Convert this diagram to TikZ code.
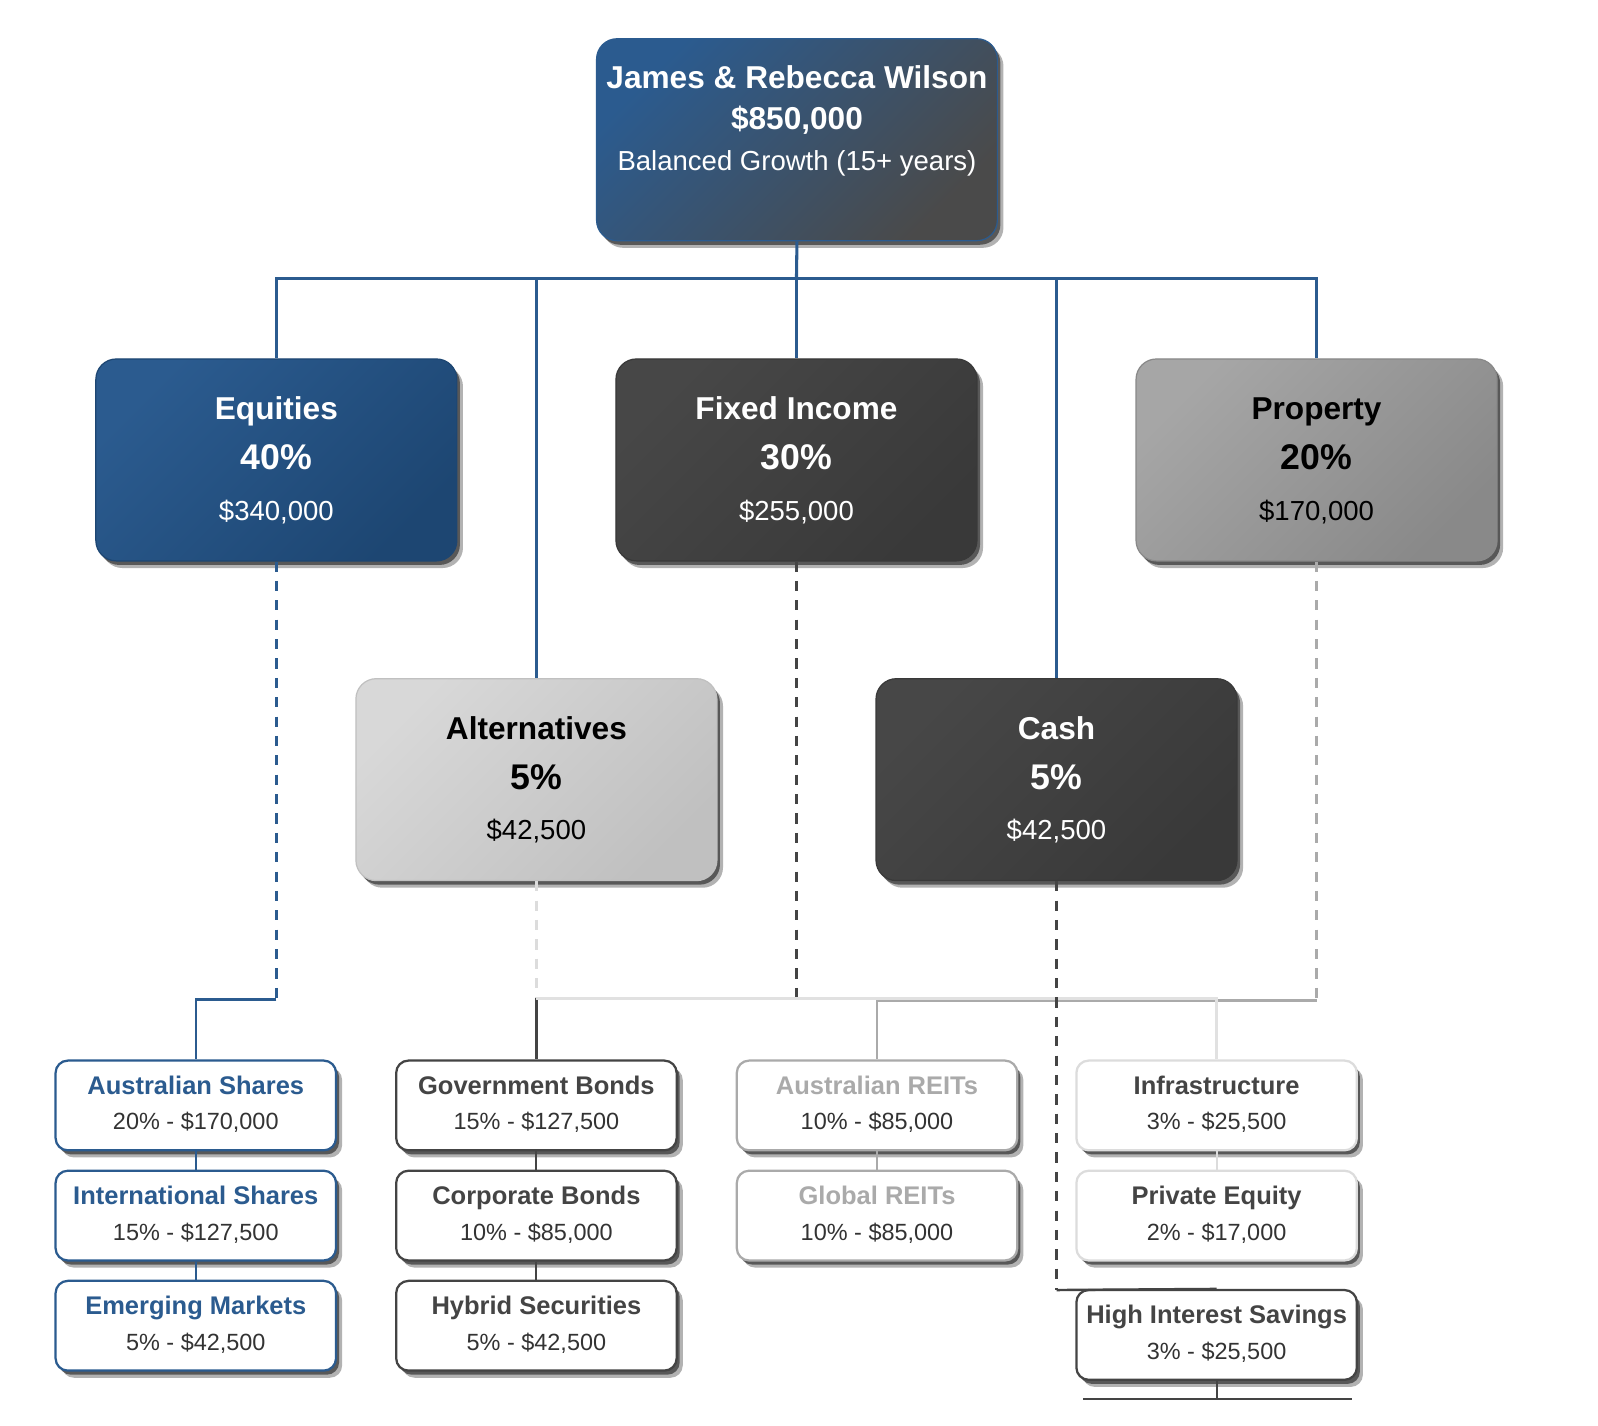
\documentclass[tikz,border=0pt]{standalone}
\usepackage{fontspec}
\setmainfont{Liberation Sans}
\usetikzlibrary{shadows}
\definecolor{navy}{HTML}{2B5B8F}
\definecolor{navydk}{HTML}{1D4672}
\definecolor{rootgray}{HTML}{4A4A4A}
\definecolor{charA}{HTML}{474747}
\definecolor{charB}{HTML}{393939}
\definecolor{charline}{HTML}{444444}
\definecolor{propA}{HTML}{A6A6A6}
\definecolor{propB}{HTML}{898989}
\definecolor{altA}{HTML}{D8D8D8}
\definecolor{altB}{HTML}{C0C0C0}
\definecolor{midgray}{HTML}{AAAAAA}
\definecolor{lightgray}{HTML}{DCDCDC}
\definecolor{valtext}{HTML}{333333}
\tikzset{
  boxshadow/.style={drop shadow={shadow xshift=1.5pt,shadow yshift=-2pt,opacity=0.5,fill=black},
                    drop shadow={shadow xshift=3pt,shadow yshift=-3.5pt,opacity=0.3,fill=black}},
  bigbox/.style n args={3}{rounded corners=10pt, inner sep=0pt, minimum width=177pt, minimum height=99pt,
                 draw=#1, line width=0.6pt, top color=#2, bottom color=#3, shading angle=45, boxshadow},
  leafbox/.style={rounded corners=6pt, inner sep=0pt, minimum width=137.5pt, minimum height=44pt,
                 fill=white, draw, line width=1.1pt, boxshadow},
  tx/.style={anchor=base, inner sep=0pt},
  fTitle/.style={font=\fontsize{15.5}{18}\selectfont\bfseries},
  fPct/.style={font=\fontsize{17.5}{20}\selectfont\bfseries},
  fAmt/.style={font=\fontsize{13.5}{16}\selectfont},
  fLeafT/.style={font=\fontsize{12.5}{15}\selectfont\bfseries},
  fLeafV/.style={font=\fontsize{11.5}{14}\selectfont, text=valtext},
  buscon/.style={draw=navy, line width=1.5pt},
  dashcon/.style={line width=1.25pt, dash pattern=on 5pt off 4.5pt},
  leafcon/.style={line width=1pt},
}
\begin{document}
\begin{tikzpicture}[x=0.5pt,y=-0.5pt]
\useasboundingbox (0,0) rectangle (1567,1398);
\fill[white] (0,0) rectangle (1567,1398);

% ---------- top level ----------
\node[bigbox={navy}{navy}{rootgray}, minimum width=196.5pt] (root) at (781.5,137) {};
\node[tx, fTitle, text=white] (rootT) at (781.5,87) {James \& Rebecca Wilson};
\node[tx, fTitle, text=white] (rootA) at (781.5,127) {\$850,000};
\node[tx, fAmt, text=white] (rootS) at (781.5,167) {Balanced Growth (15+ years)};

% ---------- level 1 ----------
\node[bigbox={navydk}{navy}{navydk}] (eq) at (271,451) {};
\node[bigbox={charB}{charA}{charB}] (fi) at (781,451) {};
\node[bigbox={propB}{propA}{propB}] (prop) at (1291,451) {};
\node[bigbox={altB}{altA}{altB}] (alt) at (526,764.5) {};
\node[bigbox={charB}{charA}{charB}] (cash) at (1036,764.5) {};

\node[tx, fTitle, text=white] (eqT) at (271,411) {Equities};
\node[tx, fPct, text=white] (eqP) at (271,460.5) {40\%};
\node[tx, fAmt, text=white] (eqA) at (271,510) {\$340,000};

\node[tx, fTitle, text=white] (fiT) at (781,411) {Fixed Income};
\node[tx, fPct, text=white] (fiP) at (781,460.5) {30\%};
\node[tx, fAmt, text=white] (fiA) at (781,510) {\$255,000};

\node[tx, fTitle, text=black] (prT) at (1291,411) {Property};
\node[tx, fPct, text=black] (prP) at (1291,460.5) {20\%};
\node[tx, fAmt, text=black] (prA) at (1291,510) {\$170,000};

\node[tx, fTitle, text=black] (alT) at (526,725) {Alternatives};
\node[tx, fPct, text=black] (alP) at (526,774.5) {5\%};
\node[tx, fAmt, text=black] (alA) at (526,823) {\$42,500};

\node[tx, fTitle, text=white] (caT) at (1036,725) {Cash};
\node[tx, fPct, text=white] (caP) at (1036,774.5) {5\%};
\node[tx, fAmt, text=white] (caA) at (1036,823) {\$42,500};

% ---------- bus connectors ----------
\coordinate (bus) at (781,273);
\draw[buscon] (root.south) -- (bus);
\draw[buscon] (bus) -| (eq.north);
\draw[buscon] (bus) -| (alt.north);
\draw[buscon] (bus) -- (fi.north);
\draw[buscon] (bus) -| (cash.north);
\draw[buscon] (bus) -| (prop.north);

% ---------- leaves ----------
\node[leafbox, draw=navy] (as) at (192,1084) {};
\node[leafbox, draw=navy] (is) at (192,1192) {};
\node[leafbox, draw=navy] (em) at (192,1300) {};
\node[leafbox, draw=charline] (gb) at (526,1084) {};
\node[leafbox, draw=charline] (cb) at (526,1192) {};
\node[leafbox, draw=charline] (hs) at (526,1300) {};
\node[leafbox, draw=midgray] (ar) at (860,1084) {};
\node[leafbox, draw=midgray] (gr) at (860,1192) {};
\node[leafbox, draw=lightgray] (inf) at (1193,1084) {};
\node[leafbox, draw=lightgray] (pe) at (1193,1192) {};
\node[leafbox, draw=charline] (his) at (1193,1309) {};

\node[tx, fLeafT, text=navy] (asT) at (192,1073) {Australian Shares};
\node[tx, fLeafV] (asV) at (192,1108) {20\% - \$170,000};
\node[tx, fLeafT, text=navy] (isT) at (192,1181) {International Shares};
\node[tx, fLeafV] (isV) at (192,1216) {15\% - \$127,500};
\node[tx, fLeafT, text=navy] (emT) at (192,1289) {Emerging Markets};
\node[tx, fLeafV] (emV) at (192,1324) {5\% - \$42,500};

\node[tx, fLeafT, text=charline] (gbT) at (526,1073) {Government Bonds};
\node[tx, fLeafV] (gbV) at (526,1108) {15\% - \$127,500};
\node[tx, fLeafT, text=charline] (cbT) at (526,1181) {Corporate Bonds};
\node[tx, fLeafV] (cbV) at (526,1216) {10\% - \$85,000};
\node[tx, fLeafT, text=charline] (hsT) at (526,1289) {Hybrid Securities};
\node[tx, fLeafV] (hsV) at (526,1324) {5\% - \$42,500};

\node[tx, fLeafT, text=midgray] (arT) at (860,1073) {Australian REITs};
\node[tx, fLeafV] (arV) at (860,1108) {10\% - \$85,000};
\node[tx, fLeafT, text=midgray] (grT) at (860,1181) {Global REITs};
\node[tx, fLeafV] (grV) at (860,1216) {10\% - \$85,000};

\node[tx, fLeafT, text=charline] (infT) at (1193,1073) {Infrastructure};
\node[tx, fLeafV] (infV) at (1193,1108) {3\% - \$25,500};
\node[tx, fLeafT, text=charline] (peT) at (1193,1181) {Private Equity};
\node[tx, fLeafV] (peV) at (1193,1216) {2\% - \$17,000};
\node[tx, fLeafT, text=charline] (hisT) at (1193,1298) {High Interest Savings};
\node[tx, fLeafV] (hisV) at (1193,1333) {3\% - \$25,500};

% ---------- parent to child connectors ----------
\coordinate (jEq) at (271,980);
\draw[dashcon, draw=navy] (eq.south) -- (jEq);
\draw[leafcon, draw=navy, line width=1.2pt] (jEq) -| (as.north);

\coordinate (jFi) at (781,979);
\draw[dashcon, draw=charline] (fi.south) -- (jFi);
\draw[leafcon, draw=charline, line width=1.2pt] (jFi) -| (gb.north);

\coordinate (jPr) at (1291,981);
\draw[dashcon, draw=midgray] (prop.south) -- (jPr);
\draw[leafcon, draw=midgray, line width=1.2pt] (jPr) -| (ar.north);

\coordinate (jAl) at (526,979);
\coordinate (jGb) at (526,981);
\draw[dashcon, draw=lightgray] (alt.south) -- (jAl);
\draw[leafcon, draw=lightgray!85!white, line width=1.2pt] (jAl) -| (inf.north);
\draw[leafcon, draw=charline, line width=1.2pt] (jGb) -- (gb.north);

\coordinate (jCa) at (1036,1265);
\draw[dashcon, draw=charline] (cash.south) -- (jCa);
\draw[leafcon, draw=charline, line width=1.2pt] (jCa) -- (his.north);

\draw[leafcon, draw=navy] (as.south) -- (is.north);
\draw[leafcon, draw=navy] (is.south) -- (em.north);
\draw[leafcon, draw=charline] (gb.south) -- (cb.north);
\draw[leafcon, draw=charline] (cb.south) -- (hs.north);
\draw[leafcon, draw=midgray] (ar.south) -- (gr.north);
\draw[leafcon, draw=lightgray] (inf.south) -- (pe.north);

\coordinate (nxtT) at (1193,1372);
\coordinate (nxtL) at (1062,1372);
\coordinate (nxtR) at (1326,1372);
\draw[leafcon, draw=charline] (his.south) -- (nxtT);
\draw[leafcon, draw=charline, line width=1.1pt] (nxtL) -- (nxtR);
\end{tikzpicture}
\end{document}
